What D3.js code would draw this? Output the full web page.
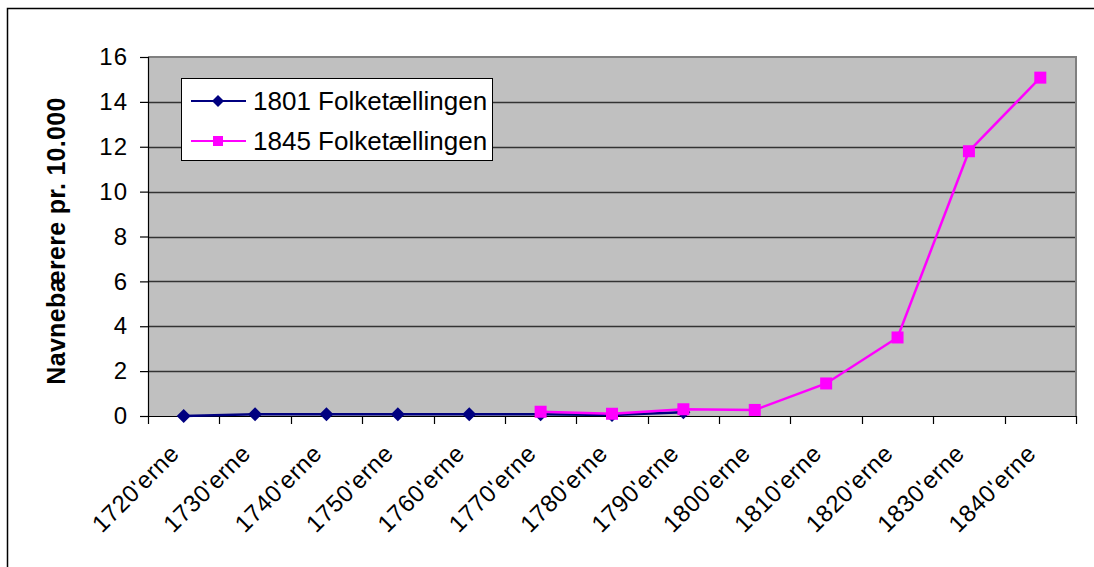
<!DOCTYPE html>
<html>
<head>
<meta charset="utf-8">
<script src="https://cdn.jsdelivr.net/npm/d3@7"></script>
<style>
  body { margin: 0; background: #fff; }
  text { font-family: Arial, "Liberation Sans", sans-serif; }
</style>
</head>
<body>
<div id="chart"></div>
<script>
// Data
const decades = ["1720'erne", "1730'erne", "1740'erne", "1750'erne", "1760'erne", "1770'erne",
  "1780'erne", "1790'erne", "1800'erne", "1810'erne", "1820'erne", "1830'erne", "1840'erne"];
const census1801 = [0, 0.08, 0.08, 0.08, 0.08, 0.08, 0.05, 0.17];
const census1845 = [null, null, null, null, null, 0.19, 0.1, 0.3, 0.27, 1.45, 3.5, 11.8, 15.08];
const yTicks = [0, 2, 4, 6, 8, 10, 12, 14, 16];
const seriesNames = ["1801 Folketællingen", "1845 Folketællingen"];

const width = 1094;
const height = 567;
const plot = { left: 148, top: 57, right: 1076, bottom: 416 };

const svg = d3.select("#chart")
    .append("svg")
    .attr("width", width)
    .attr("height", height);

// outer chart frame (only top and left visible in the crop)
svg.append("path")
    .attr("d", `M7.5,${height} V8.5 H${width}`)
    .attr("fill", "none")
    .attr("stroke", "#000")
    .attr("stroke-width", 1.5);

const x = d3.scaleBand()
    .domain(decades)
    .range([plot.left, plot.right]);

const y = d3.scaleLinear()
    .domain([0, 16])
    .range([plot.bottom, plot.top]);

// plot background
svg.append("rect")
    .attr("x", plot.left)
    .attr("y", plot.top)
    .attr("width", plot.right - plot.left)
    .attr("height", plot.bottom - plot.top)
    .attr("fill", "#c0c0c0");

// gridlines
svg.append("g")
    .selectAll("line")
    .data(yTicks.filter(d => d > 0 && d < 16))
    .join("line")
    .attr("x1", plot.left)
    .attr("x2", plot.right)
    .attr("y1", d => Math.round(y(d)) + 0.5)
    .attr("y2", d => Math.round(y(d)) + 0.5)
    .attr("stroke", "#333")
    .attr("stroke-width", 1.3);

// top/right plot border
svg.append("path")
    .attr("d", `M${plot.left},${plot.top} H${plot.right} V${plot.bottom}`)
    .attr("fill", "none")
    .attr("stroke", "#808080")
    .attr("stroke-width", 2);

// y axis
const yAxis = svg.append("g")
    .attr("transform", `translate(${plot.left},0)`)
    .call(d3.axisLeft(y).tickValues(yTicks).tickSize(8).tickPadding(12));
yAxis.select(".domain").attr("stroke", "#000").attr("stroke-width", 1.2);
yAxis.selectAll(".tick line").attr("stroke", "#000").attr("stroke-width", 1.2);
yAxis.selectAll(".tick text")
    .attr("font-size", 24)
    .attr("letter-spacing", 1)
    .attr("fill", "#000")
    .style("font-family", "Arial, 'Liberation Sans', sans-serif");

// x axis: ticks at category boundaries
const xAxisG = svg.append("g");
xAxisG.append("line")
    .attr("x1", plot.left - 8)
    .attr("x2", plot.right)
    .attr("y1", plot.bottom + 0.5)
    .attr("y2", plot.bottom + 0.5)
    .attr("stroke", "#000")
    .attr("stroke-width", 1.2);
const boundaries = decades.map(d => x(d)).concat([x(decades[decades.length - 1]) + x.bandwidth()]);
xAxisG.selectAll("line.tick")
    .data(boundaries)
    .join("line")
    .attr("class", "tick")
    .attr("x1", d => Math.round(d) + 0.5)
    .attr("x2", d => Math.round(d) + 0.5)
    .attr("y1", plot.bottom)
    .attr("y2", plot.bottom + 8)
    .attr("stroke", "#000")
    .attr("stroke-width", 1.2);
xAxisG.selectAll("text")
    .data(decades)
    .join("text")
    .attr("transform", d => `translate(${x(d) + x.bandwidth() / 2 - 3},${plot.bottom + 39}) rotate(-45)`)
    .attr("text-anchor", "end")
    .attr("font-size", 24)
    .attr("letter-spacing", 0.6)
    .attr("fill", "#000")
    .text(d => d);

// y label
svg.append("text")
    .attr("transform", `translate(65,241) rotate(-90)`)
    .attr("text-anchor", "middle")
    .attr("font-size", 25)
    .attr("letter-spacing", 0.3)
    .attr("font-weight", "bold")
    .attr("fill", "#000")
    .text("Navnebærere pr. 10.000");

const cx = d => x(d) + x.bandwidth() / 2;

// lines
const line = d3.line()
    .defined(d => d[1] != null)
    .x(d => cx(d[0]))
    .y(d => y(d[1]));

const pts1801 = census1801.map((v, i) => [decades[i], v]);
const pts1845 = census1845.map((v, i) => [decades[i], v]);

svg.append("path")
    .datum(pts1801)
    .attr("d", line)
    .attr("fill", "none")
    .attr("stroke", "#000080")
    .attr("stroke-width", 2.5);

svg.append("g")
    .selectAll("path")
    .data(pts1801)
    .join("path")
    .attr("transform", d => `translate(${cx(d[0])},${y(d[1])})`)
    .attr("d", "M0,-7 L7,0 L0,7 L-7,0 Z")
    .attr("fill", "#000080");

svg.append("path")
    .datum(pts1845)
    .attr("d", line)
    .attr("fill", "none")
    .attr("stroke", "#ff00ff")
    .attr("stroke-width", 2.5);

svg.append("g")
    .selectAll("rect")
    .data(pts1845.filter(d => d[1] != null))
    .join("rect")
    .attr("x", d => cx(d[0]) - 6)
    .attr("y", d => y(d[1]) - 6)
    .attr("width", 12)
    .attr("height", 12)
    .attr("fill", "#ff00ff");

// legend
const legend = svg.append("g");
legend.append("rect")
    .attr("x", 181.5)
    .attr("y", 78.5)
    .attr("width", 311)
    .attr("height", 82)
    .attr("fill", "#fff")
    .attr("stroke", "#000")
    .attr("stroke-width", 1);

const legendItems = [
  { name: seriesNames[0], color: "#000080", shape: "diamond" },
  { name: seriesNames[1], color: "#ff00ff", shape: "square" }
];
legendItems.forEach((item, i) => {
  const ly = 101 + i * 40;
  legend.append("line")
      .attr("x1", 191).attr("x2", 246)
      .attr("y1", ly).attr("y2", ly)
      .attr("stroke", item.color)
      .attr("stroke-width", 2);
  if (item.shape === "diamond") {
    legend.append("path")
        .attr("transform", `translate(218,${ly})`)
        .attr("d", "M0,-6 L6,0 L0,6 L-6,0 Z")
        .attr("fill", item.color);
  } else {
    legend.append("rect")
        .attr("x", 213).attr("y", ly - 5)
        .attr("width", 10).attr("height", 10)
        .attr("fill", item.color);
  }
  legend.append("text")
      .attr("x", 253)
      .attr("y", ly + 9)
      .attr("font-size", 26)
      .attr("fill", "#000")
      .text(item.name);
});
</script>
</body>
</html>
